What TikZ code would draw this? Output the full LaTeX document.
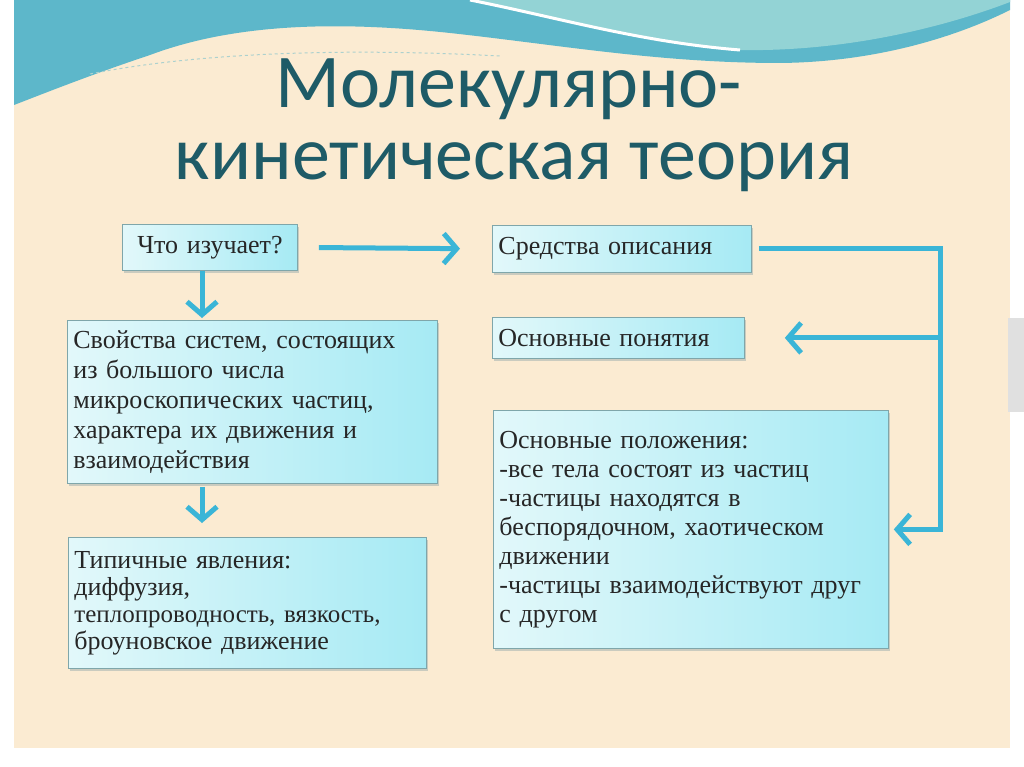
\documentclass[tikz,border=0pt]{standalone}
\usepackage{fontspec}
\setmainfont{Liberation Serif}
\newfontfamily\titlefont{Carlito}
\usetikzlibrary{arrows.meta,shadows}
\definecolor{slidebg}{HTML}{FBEBD2}
\definecolor{wavedark}{HTML}{5DB7CA}
\definecolor{wavelight}{HTML}{93D3D5}
\definecolor{titleteal}{HTML}{1E5B67}
\definecolor{arrowcyan}{HTML}{3AB5D7}
\definecolor{boxleft}{HTML}{E2F8FA}
\definecolor{boxright}{HTML}{A6EAF4}
\definecolor{boxline}{HTML}{7FA6AA}
\begin{document}
\begin{tikzpicture}[x=1pt,y=-1pt,
    box/.style={draw=boxline, line width=0.8pt, left color=boxleft, right color=boxright,
      anchor=north west, align=left, inner xsep=6pt, inner ysep=0pt, text=black!85,
      font=\fontsize{26}{30}\selectfont,
      drop shadow={shadow xshift=2pt, shadow yshift=-3pt, fill=boxline!70!black!60}},
    arr/.style={draw=arrowcyan, line width=5pt, line join=miter,
      -{Straight Barb[length=13pt,width=30pt]}},
    titletext/.style={font=\titlefont\fontsize{76}{72}\selectfont, text=titleteal, anchor=base}]
  \useasboundingbox (0,0) rectangle (1024,767);
  \fill[white] (0,0) rectangle (1024,767);
  \fill[slidebg] (14,0) rectangle (1010,748);
  \fill[black!12] (1008,318) rectangle (1024,412);
  \fill[wavedark] (14,0) -- (1010,0) -- (1010,10)
    .. controls (960,35) and (880,62) .. (780,63)
    .. controls (660,63) and (560,45) .. (450,33)
    .. controls (330,20) and (230,25) .. (150,55)
    .. controls (90,75) and (40,95) .. (14,105) -- cycle;
  \fill[wavelight] (470,0) .. controls (560,18) and (640,42) .. (740,50)
    .. controls (850,52) and (950,25) .. (1010,2) -- (1010,0) -- cycle;
  \draw[white, line width=3pt] (470,0) .. controls (560,18) and (640,42) .. (740,50);
  \draw[wavedark!50!slidebg, dashed, line width=1pt] (90,74) .. controls (200,52) and (350,48) .. (500,56);

  \node[titletext] (title1) at (509,108) {Молекулярно-};
  \node[titletext] (title2) at (514,180) {кинетическая теория};

  \node[box, minimum width=175pt, minimum height=46pt, text width=163pt, align=center] (what) at (122,224)
    {Что изучает?};
  \node[box, minimum width=370pt, minimum height=163pt, text width=358pt] (props) at (67,320)
    {Свойства систем, состоящих\\из большого числа\\микроскопических частиц,\\характера их движения и\\взаимодействия};
  \node[box, minimum width=358pt, minimum height=131pt, text width=346pt,
    font=\fontsize{26}{27}\selectfont] (typical) at (68,537)
    {Типичные явления:\\диффузия,\\\fontsize{25}{27}\selectfont теплопроводность, вязкость,\\\fontsize{26}{27}\selectfont броуновское движение};
  \node[box, minimum width=259pt, minimum height=47pt, text width=247pt] (means) at (492,225)
    {Средства описания};
  \node[box, minimum width=252pt, minimum height=41pt, text width=240pt] (concepts) at (492,317)
    {Основные понятия};
  \node[box, minimum width=395pt, minimum height=238pt, text width=383pt,
    font=\fontsize{26}{29}\selectfont] (positions) at (493,410)
    {Основные положения:\\-все тела состоят из частиц\\-частицы находятся в\\беспорядочном, хаотическом\\движении\\-частицы взаимодействуют друг\\с другом};

  \coordinate (rail) at (940,0);
  \coordinate (stem) at (202,0);
  \draw[arr, shorten <=21pt, shorten >=32pt] (what.east) -- (means.west);
  \draw[arr, shorten >=2pt] (stem |- what.south) -- (stem |- props.north);
  \draw[arr, shorten <=3pt, shorten >=14pt] (stem |- props.south) -- (stem |- typical.north);
  \draw[arr, shorten <=7pt, shorten >=5pt] (means.east) -| (rail |- positions.east) -- (positions.east);
  \draw[arr, shorten >=40pt] (rail |- concepts.east) -- (concepts.east);
\end{tikzpicture}
\end{document}
